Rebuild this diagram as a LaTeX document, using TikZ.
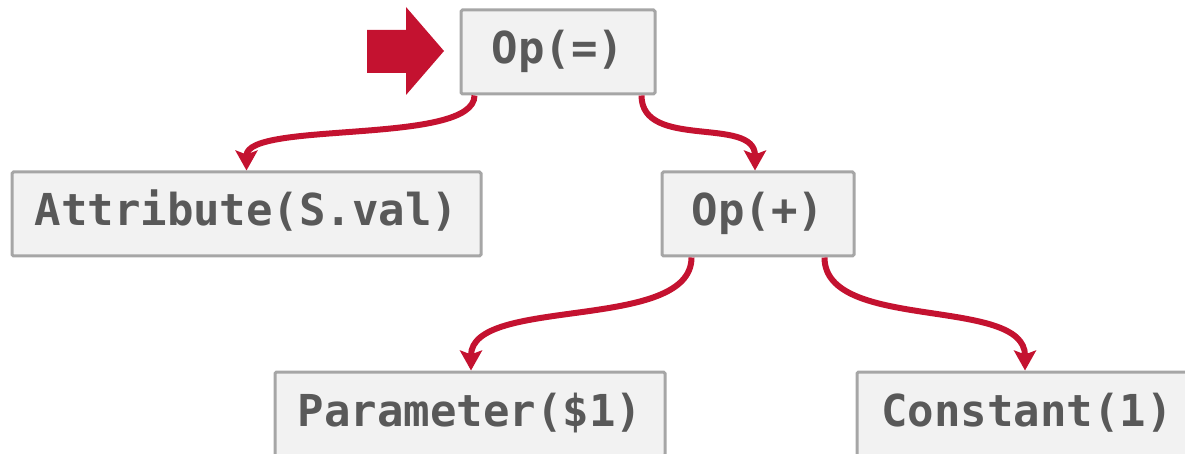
\documentclass[tikz,border=0pt]{standalone}
\usepackage{fontspec}
\setmonofont{DejaVu Sans Mono}
\usetikzlibrary{arrows.meta}
\definecolor{accent}{HTML}{C41230}
\definecolor{boxfill}{HTML}{F2F2F2}
\definecolor{boxline}{HTML}{A6A6A6}
\definecolor{ink}{HTML}{595959}
\tikzset{
  treenode/.style={draw=boxline, line width=3pt, fill=boxfill, rounded corners=1.5pt,
    minimum height=84pt, inner sep=0pt, text=ink,
    font=\ttfamily\bfseries\fontsize{44}{48}\selectfont,
    text height=32pt, text depth=8pt},
  edge/.style={draw=accent, line width=6pt,
    -{Stealth[length=20pt,width=22pt,inset=4pt]}},
}
\begin{document}
\begin{tikzpicture}[x=1pt,y=-1pt]
  \useasboundingbox (0,0) rectangle (1185,454);
  % expression tree
  \node[treenode, minimum width=194pt] (eq)    at (558,52)    {Op(=)};
  \node[treenode, minimum width=469pt] (attr)  at (246.5,214) {Attribute(S.val)};
  \node[treenode, minimum width=192pt] (plus)  at (758,214)   {Op(+)};
  \node[treenode, minimum width=390pt] (param) at (470,414)   {Parameter(\$1)};
  \node[treenode, minimum width=340pt] (const) at (1027,414)  {Constant(1)};

  % pointer to the current node
  \fill[accent] (367,30) -- (406,30) -- (406,7) -- (444,51) -- (406,95) -- (406,73) -- (367,73) -- cycle;

  % connectors
  \coordinate (e1) at ([xshift=15pt]eq.south west);
  \coordinate (e2) at ([xshift=-15pt]eq.south east);
  \coordinate (p1) at ([xshift=31pt]plus.south west);
  \coordinate (p2) at ([xshift=-31pt]plus.south east);
  \coordinate (attrtop) at (attr.north);
  \coordinate (plustop) at ([xshift=-3pt]plus.north);
  \coordinate (paramtop) at ([xshift=1pt]param.north);
  \coordinate (consttop) at ([xshift=-2pt]const.north);

  \draw[edge] (e1) .. controls +(0,50) and +(0,-50) .. (attrtop);
  \draw[edge] (e2) .. controls +(0,55) and +(0,-55) .. (plustop);
  \draw[edge] (p1) .. controls +(0,75) and +(0,-75) .. (paramtop);
  \draw[edge] (p2) .. controls +(0,75) and +(0,-75) .. (consttop);
\end{tikzpicture}
\end{document}
